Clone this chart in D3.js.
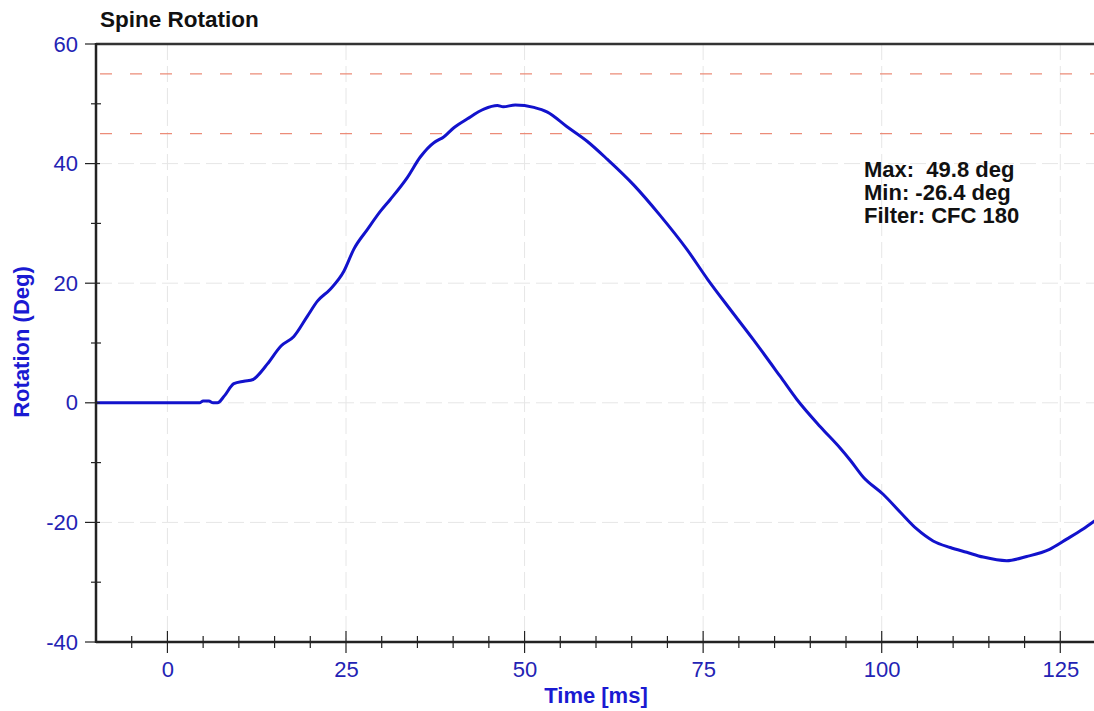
<!DOCTYPE html>
<html>
<head>
<meta charset="utf-8">
<script src="https://cdn.jsdelivr.net/npm/d3@7"></script>
<style>
  html, body { margin: 0; padding: 0; background: #fff; }
  svg { display: block; font-family: Arial, "Liberation Sans", sans-serif; }
</style>
</head>
<body>
<svg id="chart" width="1094" height="711"></svg>
<script>
// ---- data ----
const timeMs = [-10, -5, 0, 4.5, 5.0, 5.8, 6.4, 7.0, 8.0, 9.3, 10.7, 12.0, 12.6, 14.0, 15.9, 17.7, 19.6, 21.0, 22.8, 24.7, 26.1, 28.0, 29.8, 31.2, 33.6, 35.4, 37.3, 38.0, 38.5, 40.1, 42.0, 44.3, 46.2, 47.0, 48.7, 51.3, 53.2, 55.9, 58.8, 61.6, 65.3, 69.0, 72.7, 75.6, 78.8, 82.0, 85.8, 88.1, 91.4, 94.2, 95.6, 97.4, 100.2, 102.6, 104.9, 107.2, 109.6, 111.9, 114.2, 117.5, 120.3, 123.5, 125.9, 128.2, 130.0];
const rotationDeg = [0, 0, 0, 0, 0.3, 0.3, 0, 0, 1.2, 3.2, 3.6, 3.9, 4.5, 6.5, 9.5, 11.1, 14.5, 17.0, 19.0, 22.0, 25.7, 29.0, 32.0, 34.0, 37.7, 41.1, 43.5, 44.0, 44.3, 46.0, 47.5, 49.1, 49.7, 49.5, 49.8, 49.4, 48.6, 46.2, 43.7, 40.7, 36.4, 31.3, 25.7, 20.7, 15.6, 10.6, 4.4, 0.6, -4.0, -7.6, -9.6, -12.4, -15.3, -18.3, -21.1, -23.1, -24.2, -25.0, -25.8, -26.4, -25.7, -24.5, -22.8, -21.1, -19.6];
const xMajorTicks = [0, 25, 50, 75, 100, 125];
const xMinorTicks = [-5, 5, 10, 15, 20, 30, 35, 40, 45, 55, 60, 65, 70, 80, 85, 90, 95, 105, 110, 115, 120];
const yMajorTicks = [-40, -20, 0, 20, 40, 60];
const yMinorTicks = [-30, -10, 10, 30, 50];
const limitLines = [45, 55];
const statLines = ["Max:  49.8 deg", "Min: -26.4 deg", "Filter: CFC 180"];
const titleText = "Spine Rotation";
const xLabel = "Time [ms]";
const yLabel = "Rotation (Deg)";

// ---- layout ----
const svg = d3.select("#chart");
const pLeft = 96, pRight = 1096, pTop = 44, pBottom = 642;
const x = d3.scaleLinear().domain([-10, 130]).range([pLeft, pRight]);
const y = d3.scaleLinear().domain([-40, 60]).range([pBottom, pTop]);
const blueText = "#2323b4";
const fontFam = "Arial, 'Liberation Sans', sans-serif";

// gridlines
const grid = svg.append("g").attr("stroke", "#e6e6e6").attr("stroke-width", 1).attr("stroke-dasharray", "16,6");
grid.selectAll(".vg").data(xMajorTicks).join("line")
  .attr("x1", d => x(d)).attr("x2", d => x(d)).attr("y1", pTop).attr("y2", pBottom);
grid.selectAll(".hg").data(yMajorTicks.filter(d => d > -40 && d < 60)).join("line")
  .attr("x1", pLeft).attr("x2", pRight).attr("y1", d => y(d)).attr("y2", d => y(d));

// limit lines (red dashed)
svg.append("g").selectAll("line").data(limitLines).join("line")
  .attr("x1", pLeft).attr("x2", pRight)
  .attr("y1", d => y(d)).attr("y2", d => y(d))
  .attr("stroke", "#ec8c78").attr("stroke-width", 1.3).attr("stroke-dasharray", "12,18")
  .attr("stroke-dashoffset", -4);

// curve
const line = d3.line().x((d, i) => x(timeMs[i])).y(d => y(d)).curve(d3.curveMonotoneX);
svg.append("path").datum(rotationDeg)
  .attr("d", line).attr("fill", "none")
  .attr("stroke", "#1212cc").attr("stroke-width", 3).attr("stroke-linejoin", "round");

// axes lines
svg.append("line").attr("x1", pLeft).attr("x2", pRight).attr("y1", pTop).attr("y2", pTop)
  .attr("stroke", "#333").attr("stroke-width", 2.5);
svg.append("line").attr("x1", pLeft).attr("x2", pLeft).attr("y1", pTop - 1).attr("y2", pBottom + 1)
  .attr("stroke", "#222").attr("stroke-width", 2.5);
svg.append("line").attr("x1", pLeft).attr("x2", pRight).attr("y1", pBottom).attr("y2", pBottom)
  .attr("stroke", "#222").attr("stroke-width", 2.5);

// x axis ticks & labels
const xAxis = d3.axisBottom(x).tickValues(xMajorTicks).tickSize(0).tickPadding(19).tickFormat(d => String(d));
const gx = svg.append("g").attr("transform", `translate(0,${pBottom})`).call(xAxis);
gx.select(".domain").remove();
gx.selectAll("text").attr("fill", blueText).attr("font-size", 22).attr("font-family", fontFam);
svg.append("g").selectAll("line").data(xMajorTicks).join("line")
  .attr("x1", d => x(d)).attr("x2", d => x(d)).attr("y1", pBottom - 11).attr("y2", pBottom + 11)
  .attr("stroke", "#222").attr("stroke-width", 1.2);
svg.append("g").selectAll("line").data(xMinorTicks).join("line")
  .attr("x1", d => x(d)).attr("x2", d => x(d)).attr("y1", pBottom - 6).attr("y2", pBottom + 6)
  .attr("stroke", "#222").attr("stroke-width", 1.2);

// y axis ticks & labels
const yAxis = d3.axisLeft(y).tickValues(yMajorTicks).tickSize(0).tickPadding(18).tickFormat(d => String(d));
const gy = svg.append("g").attr("transform", `translate(${pLeft},0)`).call(yAxis);
gy.select(".domain").remove();
gy.selectAll("text").attr("fill", blueText).attr("font-size", 22).attr("font-family", fontFam);
svg.append("g").selectAll("line").data(yMajorTicks).join("line")
  .attr("x1", pLeft - 11).attr("x2", pLeft + 4).attr("y1", d => y(d)).attr("y2", d => y(d))
  .attr("stroke", "#222").attr("stroke-width", 1.2);
svg.append("g").selectAll("line").data(yMinorTicks).join("line")
  .attr("x1", pLeft - 5).attr("x2", pLeft + 5).attr("y1", d => y(d)).attr("y2", d => y(d))
  .attr("stroke", "#222").attr("stroke-width", 1.2);

// title
svg.append("text").attr("x", 100).attr("y", 27).text(titleText)
  .attr("font-size", 22.5).attr("font-weight", "bold").attr("fill", "#111");

// axis labels
svg.append("text").attr("x", 596).attr("y", 703).attr("text-anchor", "middle").text(xLabel)
  .attr("font-size", 22).attr("font-weight", "bold").attr("fill", "#1a1ad2");
svg.append("text").attr("transform", "translate(29,342) rotate(-90)").attr("text-anchor", "middle").text(yLabel)
  .attr("font-size", 22).attr("font-weight", "bold").attr("fill", "#1a1ad2");

// stats annotation
svg.append("g").selectAll("text").data(statLines).join("text")
  .attr("x", 864).attr("y", (d, i) => 177 + i * 23)
  .attr("font-size", 22).attr("font-weight", "bold").attr("fill", "#111")
  .attr("xml:space", "preserve").style("white-space", "pre")
  .text(d => d);
</script>
</body>
</html>
